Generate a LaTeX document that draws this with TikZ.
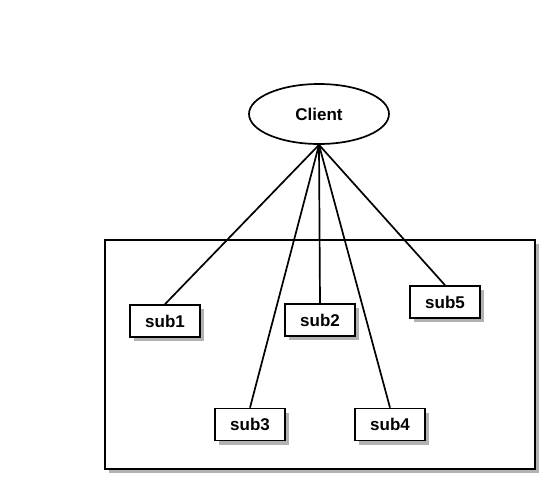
\documentclass[tikz,border=0pt]{standalone}
\usepackage{fontspec}
\setmainfont{Liberation Sans}
\usetikzlibrary{shapes.geometric, shadows}

\begin{document}
\begin{tikzpicture}[
  x=1pt, y=-1pt,
  shade/.style={drop shadow={shadow xshift=4pt, shadow yshift=-4pt, fill=black!30, opacity=1}},
  subbox/.style={draw, line width=1.7pt, fill=white, shade, minimum width=70pt, minimum height=32pt, inner sep=0pt, font=\fontsize{17}{19}\selectfont\bfseries},
  group/.style={draw, line width=1.7pt, fill=white, shade, minimum width=430pt, minimum height=229pt, inner sep=0pt},
  client/.style={draw, ellipse, line width=1.7pt, fill=white, minimum width=140pt, minimum height=60pt, inner sep=0pt, font=\fontsize{17}{19}\selectfont\bfseries},
  link/.style={line width=1.7pt},
]
  \useasboundingbox (0,0) rectangle (555,490);

  % Container
  \node[group] (cluster) at (320,354.5) {};

  % Client
  \node[client] (cl) at (319,114) {Client};

  % Subscribers
  \node[subbox] (sub1) at (165,321) {sub1};
  \node[subbox] (sub2) at (320,320) {sub2};
  \node[subbox] (sub3) at (250,424.5) {sub3};
  \node[subbox] (sub4) at (390,424.5) {sub4};
  \node[subbox] (sub5) at (445,302) {sub5};

  % Links
  \foreach \s in {sub1,sub2,sub3,sub4,sub5}
    \draw[link] (cl.south) -- (\s.north);
\end{tikzpicture}
\end{document}
